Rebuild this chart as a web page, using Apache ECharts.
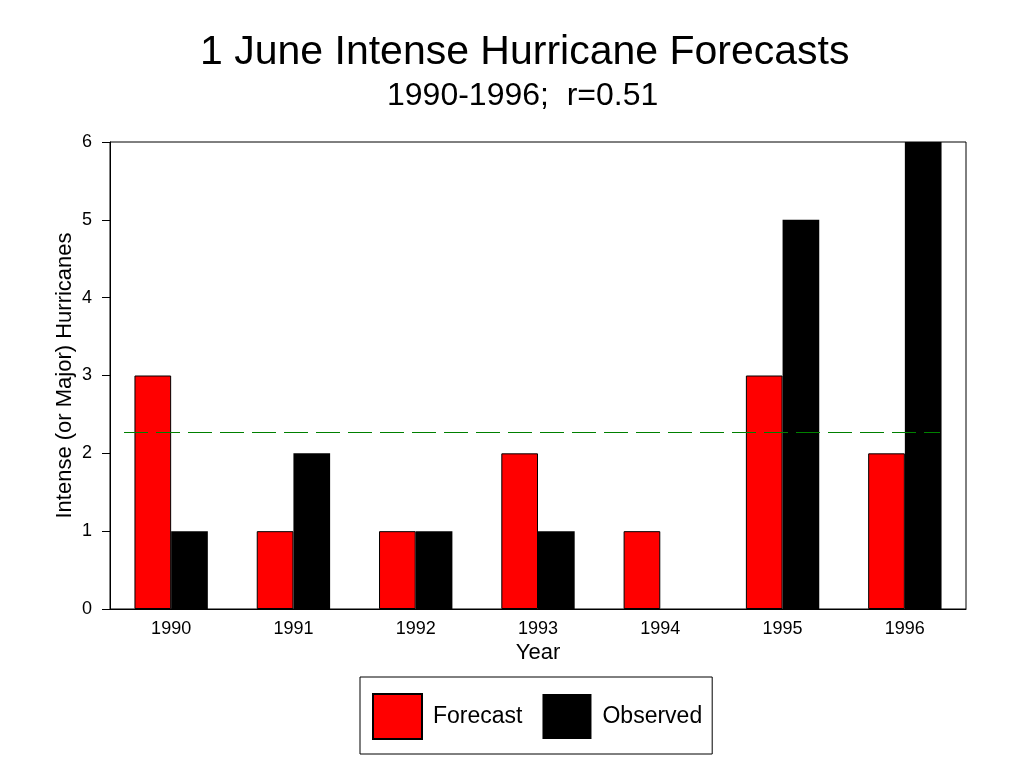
<!DOCTYPE html>
<html>
<head>
<meta charset="utf-8">
<title>1 June Intense Hurricane Forecasts</title>
<script src="https://cdn.jsdelivr.net/npm/echarts@6/dist/echarts.min.js"></script>
<style>
	html, body { margin: 0; padding: 0; background: #fff; }
	#chart { width: 1024px; height: 768px; }
</style>
</head>
<body>
<div id="chart"></div>
<script>
const years = ['1990', '1991', '1992', '1993', '1994', '1995', '1996'];
const forecast = [3, 1, 1, 2, 1, 3, 2];
const observed = [1, 2, 1, 1, 0, 5, 6];
const meanLine = 2.27; // dashed green reference line
const yTicks = { min: 0, max: 6, interval: 1 };

const font = 'Liberation Sans';
const green = '#008000';
const dash = { color: green, width: 1, type: [24, 8] };
const chart = echarts.init(document.getElementById('chart'));

chart.setOption({
	animation: false,
	backgroundColor: '#fff',
	textStyle: { fontFamily: font, color: '#000' },
	title: [
		{
			text: '1 June Intense Hurricane Forecasts',
			left: 200,
			top: 32,
			padding: 0,
			textStyle: { fontFamily: font, fontSize: 41, fontWeight: 'normal', color: '#000' }
		},
		{
			text: '1990-1996;  r=0.51',
			left: 387,
			top: 80,
			padding: 0,
			textStyle: { fontFamily: font, fontSize: 32, fontWeight: 'normal', color: '#000' }
		}
	],
	grid: {
		left: 110,
		right: 58,
		top: 142,
		bottom: 159,
		show: true,
		borderColor: '#000',
		borderWidth: 1,
		backgroundColor: 'transparent'
	},
	legend: {
		data: ['Forecast', 'Observed'],
		left: 360,
		top: 677,
		orient: 'horizontal',
		icon: 'rect',
		itemWidth: 49,
		itemHeight: 45,
		itemGap: 20,
		padding: [16, 10, 14, 12],
		borderColor: '#000',
		borderWidth: 1,
		selectedMode: false,
		textStyle: { fontFamily: font, fontSize: 23, color: '#000', padding: [0, 0, 0, 6] }
	},
	xAxis: {
		type: 'category',
		data: years,
		name: 'Year',
		nameLocation: 'middle',
		nameGap: 33,
		nameMoveOverlap: false,
		nameTextStyle: { fontFamily: font, fontSize: 22, color: '#000' },
		axisLine: { lineStyle: { color: '#000', width: 1 } },
		axisTick: { length: 9, lineStyle: { color: '#000' } },
		axisLabel: { margin: 11, fontFamily: font, fontSize: 18, color: '#000' },
		splitLine: { show: false }
	},
	yAxis: {
		type: 'value',
		min: yTicks.min,
		max: yTicks.max,
		interval: yTicks.interval,
		name: 'Intense (or Major) Hurricanes',
		nameLocation: 'middle',
		nameGap: 34,
		nameMoveOverlap: false,
		nameTextStyle: { fontFamily: font, fontSize: 22, color: '#000' },
		axisLine: { show: true, lineStyle: { color: '#000', width: 1 } },
		axisTick: { show: true, length: 8, lineStyle: { color: '#000' } },
		axisLabel: { margin: 18, fontFamily: font, fontSize: 18, color: '#000' },
		splitLine: { show: false }
	},
	series: [
		{
			name: 'Forecast',
			type: 'bar',
			data: forecast,
			barWidth: '30%',
			barGap: '0%',
			itemStyle: { color: '#ff0000', borderColor: '#000', borderWidth: 1 }
		},
		{
			name: 'Observed',
			type: 'bar',
			data: observed,
			barWidth: '30%',
			barGap: '0%',
			itemStyle: { color: '#000', borderWidth: 0 },
			markLine: {
				silent: true,
				symbol: ['none', 'none'],
				label: { show: false },
				z: 10,
				lineStyle: dash,
				emphasis: { disabled: true },
				data: [[
					{ x: 124, yAxis: meanLine, lineStyle: dash },
					{ x: 940, yAxis: meanLine, lineStyle: dash }
				]]
			}
		}
	]
});
</script>
</body>
</html>
